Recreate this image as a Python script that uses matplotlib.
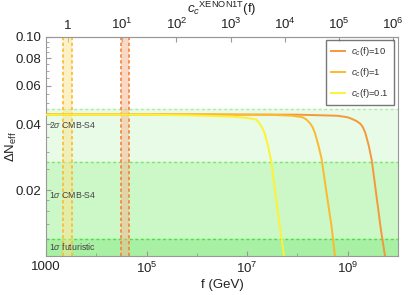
import numpy as np
import matplotlib
matplotlib.use("Agg")
import matplotlib.pyplot as plt

plt.rcParams['font.family'] = ['Liberation Sans', 'DejaVu Sans']
plt.rcParams['mathtext.fontset'] = 'custom'
plt.rcParams['mathtext.rm'] = 'Liberation Sans'
plt.rcParams['mathtext.it'] = 'Liberation Sans:italic'

# --- data ---
# log10 f (GeV) and Delta N_eff for each c_c(f)
logf_c10 = [3.0, 6.0, 8.0, 8.8, 9.0, 9.08, 9.17, 9.25, 9.30, 9.35, 9.42, 9.48, 9.58, 9.66, 9.745]
dneff_c10 = [0.0443, 0.0443, 0.0442, 0.0437, 0.0430, 0.0423, 0.0414, 0.0402, 0.0388, 0.0365, 0.0318, 0.0272, 0.0182, 0.0132, 0.0099]

logf_c1 = [3.0, 6.0, 7.5, 7.9, 8.1, 8.18, 8.25, 8.30, 8.35, 8.42, 8.48, 8.60, 8.68, 8.75]
dneff_c1 = [0.0443, 0.0443, 0.0441, 0.0437, 0.0430, 0.0420, 0.0404, 0.0388, 0.0364, 0.0318, 0.0278, 0.0180, 0.0136, 0.0098]

logf_c01 = [3.0, 5.0, 6.0, 6.7, 7.0, 7.18, 7.24, 7.30, 7.35, 7.42, 7.48, 7.58, 7.68, 7.74]
dneff_c01 = [0.0442, 0.0442, 0.0438, 0.0433, 0.0427, 0.0420, 0.0405, 0.0385, 0.0363, 0.0315, 0.0270, 0.0180, 0.0121, 0.0098]

labels = [r'$c_c$(f)=10', r'$c_c$(f)=1', r'$c_c$(f)=0.1']
colors = ['#f5983a', '#fdb92e', '#fff235']

# sensitivity levels of Delta N_eff
lvl_2s_cmbs4 = 0.047
lvl_1s_cmbs4 = 0.027
lvl_1s_fut = 0.012

# XENON1T bands in log10 f (c_c ~ 1 and c_c ~ 10)
band_c1 = [3.346, 3.526]
band_c10 = [4.494, 4.646]

# mapping f -> c_c^XENON1T(f)
f_at_c1 = 3.438
slope = 1.078

fig = plt.figure(figsize=(4.08, 2.95), dpi=100)
ax = fig.add_axes([0.1127, 0.132, 0.8628, 0.7426])
ax.set_xscale('log')
ax.set_yscale('log')
ax.set_xlim(1e3, 1e10)
ax.set_ylim(0.01, 0.1)

# green sensitivity regions
ax.axhspan(0.01, lvl_2s_cmbs4, color='#e8fbe6', zorder=0)
ax.axhspan(0.01, lvl_1s_cmbs4, color='#ccf7c6', zorder=0)
ax.axhspan(0.01, lvl_1s_fut, color='#a8f0a3', zorder=0)
ax.axhline(lvl_2s_cmbs4, color='#a6ef9f', ls=(0, (2, 2)), lw=1.0, zorder=1)
ax.axhline(lvl_1s_cmbs4, color='#77e56e', ls=(0, (2, 2)), lw=1.0, zorder=1)
ax.axhline(lvl_1s_fut, color='#4fdc44', ls=(0, (2, 2)), lw=1.0, zorder=1)

ax.text(10**3.06, 0.0385, r'$2\sigma$ CMB-S4', fontsize=6.3, color='#444444')
ax.text(10**3.06, 0.0185, r'$1\sigma$ CMB-S4', fontsize=6.3, color='#444444')
ax.text(10**3.06, 0.01065, r'$1\sigma$ futuristic', fontsize=6.3, color='#444444')

# XENON1T vertical bands
for band, fc, ec in [(band_c1, '#fbe48c', '#fdb92e'), (band_c10, '#f7b58a', '#f5823a')]:
    ax.axvspan(10**band[0], 10**band[1], color=fc, alpha=0.5, lw=0, zorder=2)
    for b in band:
        ax.axvline(10**b, color=ec, ls=(0, (2, 1.5)), lw=1.2, zorder=2)

# curves
for lf, dn, lab, col in zip([logf_c10, logf_c1, logf_c01],
                            [dneff_c10, dneff_c1, dneff_c01], labels, colors):
    ax.plot(10**np.array(lf), dn, color=col, lw=1.4, label=lab, zorder=3)

# ticks
ax.set_xticks([1e3, 1e5, 1e7, 1e9], labels=['1000', r'$10^5$', r'$10^7$', r'$10^9$'])
ax.set_xticks([1e4, 1e6, 1e8, 1e10], minor=True)
ax.set_xticklabels([], minor=True)
ax.set_yticks([0.02, 0.04, 0.06, 0.08, 0.10], labels=['0.02', '0.04', '0.06', '0.08', '0.10'])
ax.set_yticks([0.012, 0.014, 0.016, 0.018, 0.025, 0.03, 0.035, 0.045, 0.05, 0.055,
               0.065, 0.07, 0.075, 0.085, 0.09, 0.095], minor=True)
ax.set_yticklabels([], minor=True)
ax.tick_params(which='both', direction='in', colors='#999999', labelcolor='#222222',
               labelsize=9.5, top=False, right=False)
ax.tick_params(which='major', length=3.5)
ax.tick_params(which='minor', length=2)
for s in ax.spines.values():
    s.set_color('#999999')

ax.set_xlabel('f (GeV)', fontsize=9.5, color='#222222', labelpad=2)
ax.set_ylabel(r'$\Delta$N$_{\mathrm{eff}}$', fontsize=9.5, color='#222222')
ax.yaxis.set_label_coords(-0.078, 0.5)

# top axis: c_c^XENON1T(f)
def f_to_c(f):
    return 10**((np.log10(f) - f_at_c1) / slope)

def c_to_f(c):
    return 10**(np.log10(c) * slope + f_at_c1)

sec = ax.secondary_xaxis('top', functions=(f_to_c, c_to_f))
sec.set_xticks([1, 10, 100, 1e3, 1e4, 1e5, 1e6],
               labels=['1', r'$10^1$', r'$10^2$', r'$10^3$', r'$10^4$', r'$10^5$', r'$10^6$'])
sec.xaxis.set_minor_locator(matplotlib.ticker.NullLocator())
sec.tick_params(direction='in', colors='#999999', labelcolor='#222222', labelsize=9.5, length=3.5)
sec.spines['top'].set_color('#999999')
sec.set_xlabel(r'$c_c$$^{\mathrm{XENON1T}}$(f)', fontsize=9.5, color='#222222', labelpad=3)

leg = ax.legend(loc='upper right', bbox_to_anchor=(1 - 4 / 352, 1 - 3 / 219),
                fontsize=6.8, handlelength=1.4, handletextpad=0.7, frameon=True,
                fancybox=False, borderpad=0.55, labelspacing=0.85, borderaxespad=0)
leg.get_frame().set_edgecolor('#555555')
leg.get_frame().set_linewidth(1.0)
for t in leg.get_texts():
    t.set_color('#333333')

fig.savefig('out.png', dpi=100)
